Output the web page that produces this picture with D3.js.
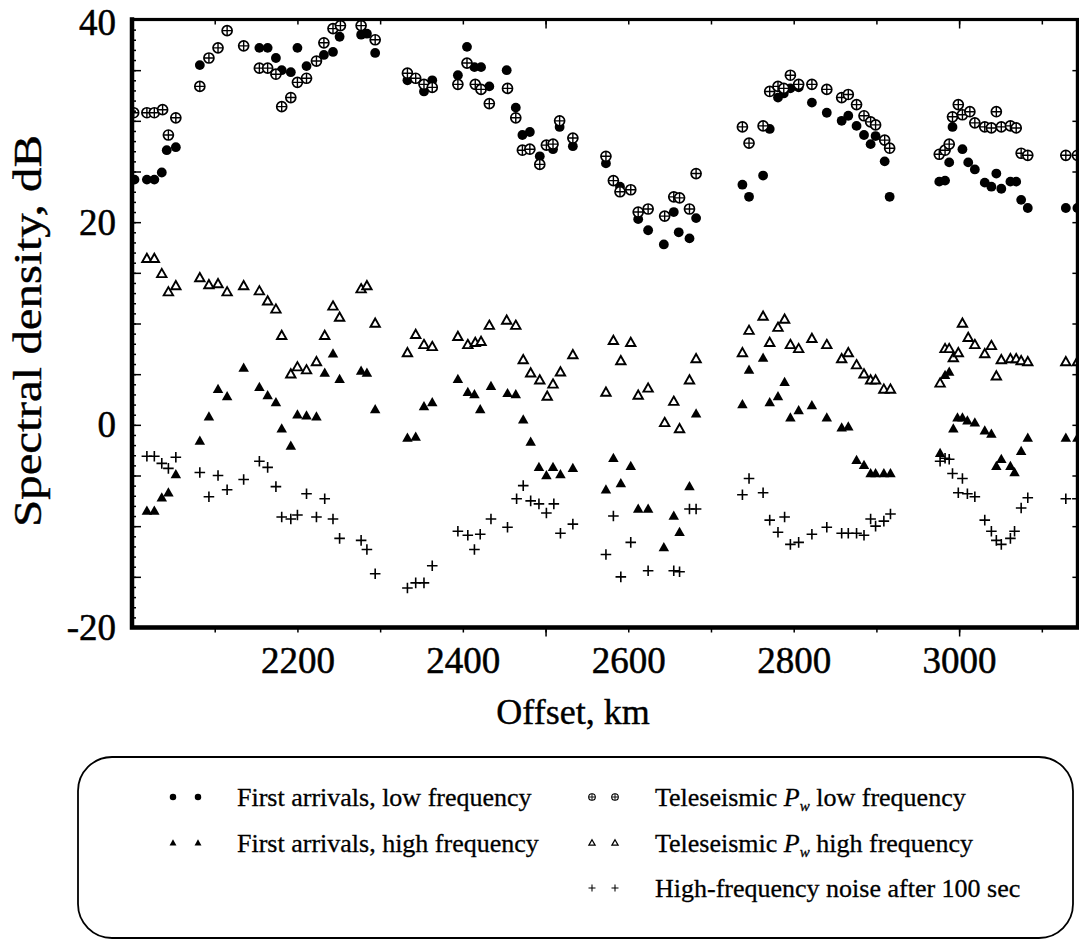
<!DOCTYPE html>
<html>
<head>
<meta charset="utf-8">
<script src="https://cdn.jsdelivr.net/npm/d3@7"></script>
<style>
  html, body { margin: 0; padding: 0; background: #fff; }
  svg { display: block; }
  text { font-family: "Liberation Serif", "Times New Roman", serif; fill: #000; }
</style>
</head>
<body>
<svg id="chart" width="1079" height="943"></svg>
<script>
// Spectral density vs. offset, five measurement groups: [offset km, dB]
const firstLow = [
  [2003,24.2],[2018,24.2],[2027,24.2],[2036,24.9],[2042,27.1],[2053,27.4],
  [2082,35.5],[2154,37.2],[2164,37.2],[2174,36.2],[2181,35.0],[2192,34.8],[2200,37.2],[2211,35.4],
  [2232,36.5],[2243,36.8],[2251,38.3],[2277,38.5],[2284,38.6],[2294,36.7],
  [2333,34.0],[2353,32.9],[2363,34.0],
  [2394,34.5],[2405,37.3],[2414,35.3],[2422,35.3],[2432,33.4],[2453,35.0],[2464,31.3],[2472,28.6],
  [2481,28.9],[2493,26.5],[2509,27.2],[2517,29.4],[2533,27.5],
  [2573,25.8],[2590,23.5],[2612,20.3],[2624,19.2],[2643,17.8],[2655,21.0],[2661,19.0],[2674,18.4],[2682,20.4],
  [2738,23.7],[2746,22.5],[2763,24.6],[2771,29.2],[2781,32.3],[2788,32.7],[2796,33.2],[2806,33.3],
  [2822,31.8],[2840,30.8],[2858,30.0],[2866,30.5],[2876,29.5],[2885,28.6],[2893,27.7],[2899,28.5],
  [2910,26.0],[2916,22.5],
  [2976,24.0],[2983,24.1],[2988,25.9],[2992,29.4],[3004,27.2],[3011,25.9],[3019,25.2],[3031,23.9],
  [3039,23.5],[3045,24.8],[3051,23.3],[3062,24.0],[3069,24.0],[3075,22.2],[3083,21.4],[3129,21.4],[3143,21.4]
];

const firstHigh = [
  [2018,-8.5],[2027,-8.5],[2036,-7.2],[2044,-6.7],[2053,-4.9],
  [2082,-1.6],[2093,0.8],[2104,3.5],[2115,2.8],[2135,5.6],[2154,3.7],[2164,2.9],[2174,2.2],[2181,-0.4],
  [2192,-2.1],[2200,1.0],[2211,0.9],[2223,0.8],[2233,5.1],[2243,7.0],[2251,4.5],[2277,5.3],[2284,5.1],[2294,1.5],
  [2333,-1.3],[2343,-1.2],[2353,1.8],[2363,2.2],
  [2394,4.5],[2406,3.2],[2414,3.0],[2421,1.5],[2434,3.8],[2454,3.1],[2464,3.0],[2473,0.5],[2482,-1.7],
  [2492,-4.2],[2501,-5.0],[2509,-4.2],[2518,-4.9],[2533,-4.3],
  [2573,-6.4],[2582,-3.3],[2591,-5.8],[2603,-4.1],[2612,-8.3],[2624,-8.3],[2643,-12.1],[2655,-9.0],
  [2662,-10.6],[2674,-6.1],[2682,1.1],
  [2738,2.0],[2746,5.4],[2763,6.6],[2771,2.2],[2781,2.8],[2789,4.2],[2796,0.7],[2806,1.4],[2822,1.9],
  [2840,0.7],[2858,-0.3],[2866,-0.2],[2876,-3.5],[2885,-4.0],[2893,-4.8],[2899,-4.8],[2909,-4.8],[2917,-4.8],
  [2977,-2.8],[2983,4.9],[2988,5.2],[2993,-0.4],[2998,0.7],[3004,0.7],[3010,0.4],[3019,0.2],[3031,-0.6],
  [3039,-0.9],[3045,-4.1],[3051,-3.4],[3062,-4.1],[3067,-4.7],[3075,-2.6],[3083,-1.3],[3129,-1.3],[3143,-1.3]
];

const teleLow = [
  [2002,30.8],[2018,30.8],[2027,30.8],[2037,31.1],[2044,28.6],[2053,30.3],
  [2082,33.4],[2093,36.2],[2104,37.2],[2115,38.9],[2135,37.4],[2154,35.2],[2164,35.2],[2174,34.6],
  [2181,31.4],[2192,32.3],[2200,33.8],[2211,34.2],[2223,35.9],[2232,37.7],[2243,39.1],[2252,39.4],
  [2277,39.4],[2294,38.0],
  [2333,34.7],[2343,34.2],[2353,33.6],[2363,33.3],
  [2394,33.6],[2405,35.7],[2415,33.6],[2422,33.1],[2432,31.7],[2454,33.2],[2464,30.3],[2472,27.1],
  [2481,27.2],[2493,25.7],[2501,27.6],[2509,27.7],[2517,30.0],[2533,28.3],
  [2573,26.5],[2582,24.1],[2590,23.0],[2603,23.2],[2612,21.0],[2624,21.3],[2644,20.6],[2655,22.5],
  [2662,22.4],[2674,21.3],[2682,24.8],
  [2738,29.4],[2746,27.8],[2763,29.5],[2771,32.9],[2781,33.4],[2788,33.2],[2796,34.5],[2806,33.6],
  [2822,33.6],[2840,33.1],[2858,32.3],[2866,32.6],[2876,31.6],[2885,30.5],[2893,29.9],[2899,29.6],
  [2910,28.1],[2916,27.3],
  [2976,26.7],[2983,27.1],[2988,27.7],[2992,30.4],[2999,31.6],[3004,30.6],[3013,30.9],[3019,29.8],
  [3031,29.4],[3039,29.3],[3045,30.9],[3051,29.4],[3062,29.5],[3069,29.3],[3075,26.8],[3083,26.6],
  [3129,26.6],[3143,26.6]
];

const teleHigh = [
  [2018,16.4],[2027,16.4],[2036,14.9],[2044,13.1],[2053,13.7],
  [2082,14.5],[2093,13.8],[2104,13.9],[2115,13.1],[2135,13.7],[2154,13.2],[2164,12.2],[2174,11.4],
  [2181,8.8],[2192,5.0],[2200,5.7],[2211,5.4],[2223,6.2],[2233,8.8],[2243,11.7],[2251,10.6],
  [2277,13.4],[2284,13.7],[2294,10.0],
  [2333,7.1],[2343,8.9],[2353,7.9],[2363,7.7],
  [2394,8.7],[2406,7.9],[2415,8.1],[2422,8.2],[2432,9.8],[2453,10.3],[2464,9.8],[2473,6.4],[2482,5.1],
  [2493,4.4],[2502,2.8],[2509,4.0],[2518,5.2],[2533,6.9],
  [2573,3.2],[2582,8.3],[2591,6.3],[2603,8.1],[2612,2.9],[2624,3.6],[2644,0.2],[2655,2.3],[2662,-0.4],
  [2674,4.4],[2682,6.5],
  [2738,7.1],[2746,9.3],[2763,10.7],[2771,8.1],[2781,9.6],[2789,10.4],[2796,7.9],[2806,7.5],[2822,8.5],
  [2840,7.9],[2858,6.5],[2866,7.1],[2876,5.9],[2885,5.0],[2893,4.4],[2899,4.4],[2909,3.5],[2917,3.5],
  [2977,4.1],[2983,7.5],[2988,7.5],[2993,6.6],[2999,7.1],[3004,10.0],[3011,8.6],[3019,7.9],[3031,7.0],
  [3039,7.8],[3045,4.8],[3051,6.4],[3062,6.5],[3069,6.5],[3075,6.3],[3083,6.2],[3129,6.2],[3143,6.2]
];

const noise = [
  [2018,-3.1],[2027,-3.1],[2036,-3.8],[2044,-4.3],[2053,-3.2],
  [2082,-4.7],[2093,-7.1],[2104,-5.0],[2115,-6.4],[2135,-5.4],[2154,-3.6],[2164,-4.2],[2174,-6.1],
  [2181,-9.1],[2192,-9.3],[2200,-8.9],[2211,-6.8],[2223,-9.1],[2233,-7.3],[2243,-9.3],[2251,-11.2],
  [2277,-11.4],[2284,-12.3],[2294,-14.7],
  [2333,-16.1],[2343,-15.6],[2353,-15.6],[2363,-13.9],
  [2394,-10.5],[2406,-10.9],[2414,-12.3],[2421,-10.8],[2434,-9.3],[2454,-10.1],[2465,-7.3],[2473,-6.0],
  [2482,-7.5],[2492,-7.8],[2501,-8.7],[2510,-7.8],[2518,-10.7],[2533,-9.8],
  [2573,-12.8],[2582,-9.0],[2591,-15.0],[2603,-11.6],[2624,-14.4],[2655,-14.4],[2662,-14.5],
  [2674,-8.3],[2682,-8.3],
  [2738,-6.9],[2746,-5.3],[2763,-6.7],[2771,-9.4],[2781,-10.6],[2789,-9.1],[2796,-11.8],[2806,-11.6],
  [2822,-10.8],[2840,-10.1],[2858,-10.7],[2866,-10.7],[2876,-10.7],[2885,-10.9],[2893,-9.3],[2899,-10.0],
  [2909,-9.5],[2917,-8.8],
  [2977,-3.6],[2983,-3.3],[2988,-3.4],[2992,-4.8],[2999,-6.7],[3004,-5.3],[3010,-6.8],[3019,-7.1],
  [3031,-9.4],[3039,-10.5],[3045,-11.4],[3051,-11.8],[3062,-11.2],[3067,-10.5],[3075,-8.2],[3083,-7.2],
  [3129,-7.3],[3143,-7.3]
];

const xLabelTicks = [2200, 2400, 2600, 2800, 3000];
const yLabelTicks = [-20, 0, 20, 40];
const xDomain = [2000, 3143];
const yDomain = [-20, 40];

const svg = d3.select("#chart");
const plot = { left: 132, right: 1077.4, top: 19.5, bottom: 627.5 };

const x = d3.scaleLinear().domain(xDomain).range([plot.left, plot.right]);
const y = d3.scaleLinear().domain(yDomain).range([plot.bottom, plot.top]);

// plain hyphen for negative tick values
const tickFmt = d => String(d);

svg.append("rect").attr("width", 1079).attr("height", 943).attr("fill", "#fff");

svg.append("defs").append("clipPath").attr("id", "plot-clip")
  .append("rect")
  .attr("x", plot.left).attr("y", plot.top)
  .attr("width", plot.right - plot.left).attr("height", plot.bottom - plot.top);

// ---- marker drawing helpers ----
function triPath(w) {
  const h = w * 0.88;
  return `M0,${-h * 0.6}L${w / 2},${h * 0.4}L${-w / 2},${h * 0.4}Z`;
}
const markers = {
  dot(g, s) { g.append("circle").attr("r", 4.9 * s).attr("fill", "#000"); },
  crossed(g, s) {
    const r = 5.0 * s;
    g.append("circle").attr("r", r).attr("fill", "#fff").attr("stroke", "#000").attr("stroke-width", 1.7 * s);
    g.append("path").attr("d", `M${-r},0H${r}M0,${-r}V${r}`).attr("stroke", "#000").attr("stroke-width", 1.4 * s);
  },
  triFilled(g, s) { g.append("path").attr("d", triPath(10.5 * s)).attr("fill", "#000"); },
  triOpen(g, s) {
    g.append("path").attr("d", triPath(9.4 * s)).attr("fill", "#fff")
      .attr("stroke", "#000").attr("stroke-width", 1.9 * s).attr("stroke-linejoin", "miter");
  },
  plus(g, s) {
    const a = 5.3 * s;
    g.append("path").attr("d", `M${-a},0H${a}M0,${-a}V${a}`).attr("stroke", "#000").attr("stroke-width", 1.6 * s);
  }
};

// ---- data points ----
const series = [
  { data: noise, mark: "plus" },
  { data: firstHigh, mark: "triFilled" },
  { data: teleHigh, mark: "triOpen" },
  { data: firstLow, mark: "dot" },
  { data: teleLow, mark: "crossed" }
];

const pts = svg.append("g").attr("clip-path", "url(#plot-clip)");
series.forEach(sr => {
  pts.append("g").selectAll("g").data(sr.data).join("g")
    .attr("transform", d => `translate(${x(d[0])},${y(d[1])})`)
    .each(function () { markers[sr.mark](d3.select(this), 1); });
});

// ---- axes ----
const axisG = svg.append("g");
const labelStyle = g => g.selectAll("text")
  .attr("font-size", 37).attr("fill", "#000")
  .attr("stroke", "#000").attr("stroke-width", 0.5)
  .style("font-family", "Liberation Serif");

// left minor/major ticks (inward)
axisG.append("g").attr("transform", `translate(${plot.left},0)`)
  .call(d3.axisRight(y).tickValues(d3.range(-20, 41, 1)).tickSize(4).tickFormat(""))
  .call(g => g.select(".domain").remove());
axisG.append("g").attr("transform", `translate(${plot.left},0)`)
  .call(d3.axisRight(y).tickValues(d3.range(-20, 41, 5)).tickSize(9).tickFormat(""))
  .call(g => g.select(".domain").remove());
// right ticks (inward)
axisG.append("g").attr("transform", `translate(${plot.right},0)`)
  .call(d3.axisLeft(y).tickValues(d3.range(-20, 41, 5)).tickSize(5).tickFormat(""))
  .call(g => g.select(".domain").remove());
// left labels; the top one is nudged down to stay on the page
axisG.append("g").attr("transform", `translate(${plot.left},0)`)
  .call(d3.axisLeft(y).tickValues(yLabelTicks).tickSize(0).tickPadding(16).tickFormat(tickFmt))
  .call(g => g.select(".domain").remove())
  .call(labelStyle)
  .call(g => g.selectAll("text").filter(d => d === 40).attr("y", 3));

// bottom ticks (outward)
axisG.append("g").attr("transform", `translate(0,${plot.bottom})`)
  .call(d3.axisBottom(x).tickValues(d3.range(2100, 3101, 100)).tickSize(5).tickFormat(""))
  .call(g => g.select(".domain").remove());
axisG.append("g").attr("transform", `translate(0,${plot.bottom})`)
  .call(d3.axisBottom(x).tickValues([2500, 3000]).tickSize(9).tickFormat(""))
  .call(g => g.select(".domain").remove());
// top ticks (inward)
axisG.append("g").attr("transform", `translate(0,${plot.top})`)
  .call(d3.axisBottom(x).tickValues(d3.range(2100, 3101, 100)).tickSize(5).tickFormat(""))
  .call(g => g.select(".domain").remove());
axisG.append("g").attr("transform", `translate(0,${plot.top})`)
  .call(d3.axisBottom(x).tickValues([2500, 3000]).tickSize(9).tickFormat(""))
  .call(g => g.select(".domain").remove());
// bottom labels
axisG.append("g").attr("transform", `translate(0,${plot.bottom})`)
  .call(d3.axisBottom(x).tickValues(xLabelTicks).tickSize(0).tickPadding(19).tickFormat(tickFmt))
  .call(g => g.select(".domain").remove())
  .call(labelStyle);

axisG.selectAll(".tick line").attr("stroke", "#000").attr("stroke-width", 1.5);

// frame: heavier on the left and bottom
const frame = svg.append("g").attr("stroke", "#000").attr("fill", "none");
frame.append("rect")
  .attr("x", plot.left).attr("y", plot.top)
  .attr("width", plot.right - plot.left).attr("height", plot.bottom - plot.top)
  .attr("stroke-width", 3.2);
frame.append("path")
  .attr("d", `M${plot.left},${plot.top}V${plot.bottom}H${plot.right}`)
  .attr("stroke-width", 4.5).attr("stroke-linecap", "square");

// axis titles
svg.append("text")
  .attr("x", 573).attr("y", 724)
  .attr("text-anchor", "middle").attr("font-size", 36)
  .attr("stroke", "#000").attr("stroke-width", 0.4)
  .text("Offset, km");
svg.append("text")
  .attr("transform", "translate(41,331) rotate(-90)")
  .attr("text-anchor", "middle").attr("font-size", 39)
  .attr("textLength", 392).attr("lengthAdjust", "spacingAndGlyphs")
  .attr("stroke", "#000").attr("stroke-width", 0.4)
  .text("Spectral density, dB");

// ---- legend ----
const legendBox = { x: 78, y: 757, w: 995, h: 181, r: 34 };
svg.append("rect")
  .attr("x", legendBox.x).attr("y", legendBox.y)
  .attr("width", legendBox.w).attr("height", legendBox.h)
  .attr("rx", legendBox.r).attr("ry", legendBox.r)
  .attr("fill", "none").attr("stroke", "#000").attr("stroke-width", 1.8);

const legendItems = [
  { mark: "dot", label: ["First arrivals, low frequency"], col: 0, row: 0 },
  { mark: "triFilled", label: ["First arrivals, high frequency"], col: 0, row: 1 },
  { mark: "crossed", label: ["Teleseismic ", "P", "w", " low frequency"], col: 1, row: 0 },
  { mark: "triOpen", label: ["Teleseismic ", "P", "w", " high frequency"], col: 1, row: 1 },
  { mark: "plus", label: ["High-frequency noise after 100 sec"], col: 1, row: 2 }
];
const colX = [{ m1: 173, m2: 198, t: 237 }, { m1: 592, m2: 615, t: 655 }];
const rowY = [797, 843, 888];

legendItems.forEach(it => {
  const c = colX[it.col], yy = rowY[it.row];
  [c.m1, c.m2].forEach(mx => {
    const g = svg.append("g").attr("transform", `translate(${mx},${yy})`);
    markers[it.mark](g, 0.66);
  });
  const t = svg.append("text").attr("x", c.t).attr("y", yy + 9).attr("font-size", 26)
    .attr("stroke", "#000").attr("stroke-width", 0.3);
  if (it.label.length === 1) {
    t.text(it.label[0]);
  } else {
    t.append("tspan").text(it.label[0]);
    t.append("tspan").attr("font-style", "italic").text(it.label[1]);
    t.append("tspan").attr("font-style", "italic").attr("font-size", 15).attr("dy", 5).text(it.label[2]);
    t.append("tspan").attr("dy", -5).text(it.label[3]);
  }
});
</script>
</body>
</html>
